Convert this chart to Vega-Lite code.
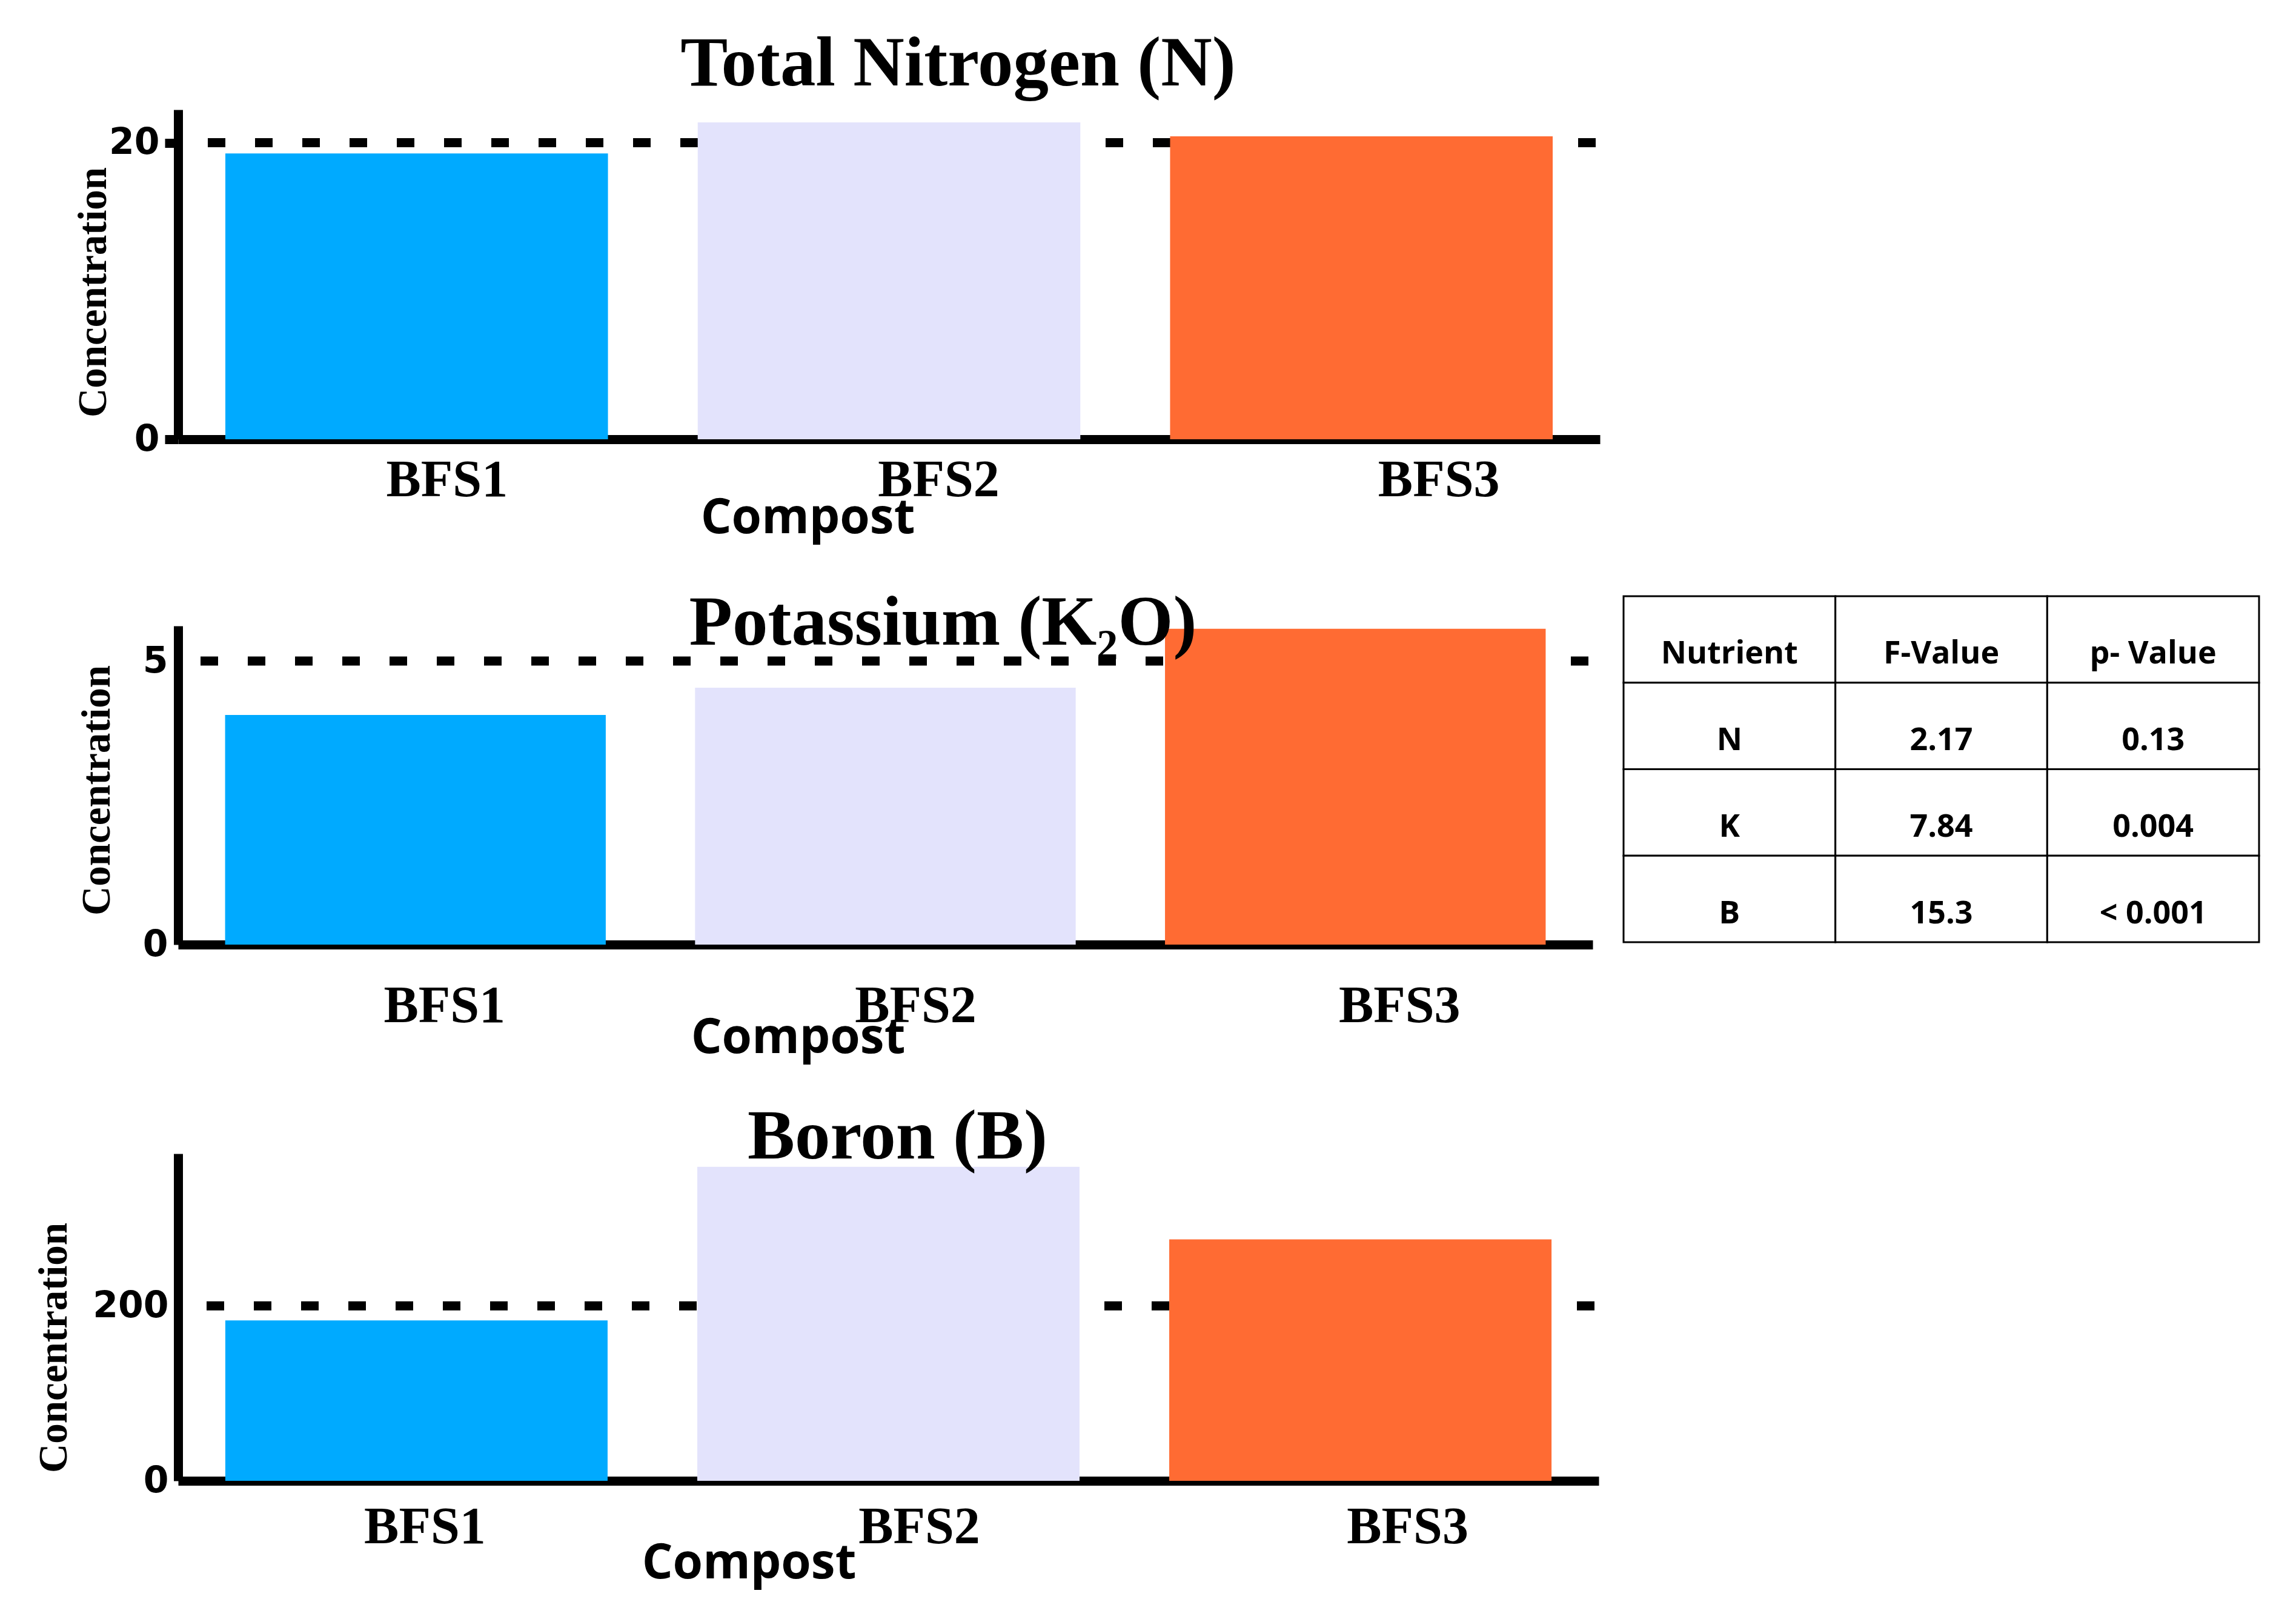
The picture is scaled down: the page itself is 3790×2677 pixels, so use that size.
{
  "$schema": "https://vega.github.io/schema/vega-lite/v6.json",
  "background": "white",
  "padding": {"left": 55, "top": 47, "right": 20, "bottom": 20},
  "config": {
    "view": {"stroke": null},
    "axis": {"grid": false, "domainColor": "black", "domainWidth": 15, "labelColor": "black", "titleColor": "black", "labelLimit": 0, "titleLimit": 0}
  },
  "datasets": {
    "concentrations": [
      {"nutrient": "N", "compost": "BFS1", "value": 19.28},
      {"nutrient": "N", "compost": "BFS2", "value": 21.37},
      {"nutrient": "N", "compost": "BFS3", "value": 20.43},
      {"nutrient": "K", "compost": "BFS1", "value": 4.05},
      {"nutrient": "K", "compost": "BFS2", "value": 4.53},
      {"nutrient": "K", "compost": "BFS3", "value": 5.57},
      {"nutrient": "B", "compost": "BFS1", "value": 183.4},
      {"nutrient": "B", "compost": "BFS2", "value": 359},
      {"nutrient": "B", "compost": "BFS3", "value": 276}
    ],
    "anova": [
      {"row": "header", "column": "Nutrient", "text": "Nutrient"},
      {"row": "header", "column": "F-Value", "text": "F-Value"},
      {"row": "header", "column": "p-Value", "text": "p- Value"},
      {"row": "N", "column": "Nutrient", "text": "N"},
      {"row": "N", "column": "F-Value", "text": "2.17"},
      {"row": "N", "column": "p-Value", "text": "0.13"},
      {"row": "K", "column": "Nutrient", "text": "K"},
      {"row": "K", "column": "F-Value", "text": "7.84"},
      {"row": "K", "column": "p-Value", "text": "0.004"},
      {"row": "B", "column": "Nutrient", "text": "B"},
      {"row": "B", "column": "F-Value", "text": "15.3"},
      {"row": "B", "column": "p-Value", "text": "< 0.001"}
    ]
  },
  "bounds": "flush",
  "spacing": 308,
  "vconcat": [
    {
      "width": 2347,
      "height": 544,
      "title": {"text": "Total Nitrogen (N)", "font": "Liberation Serif", "fontSize": 117, "fontWeight": "bold", "color": "black", "anchor": "middle", "frame": "group", "baseline": "alphabetic", "offset": -77, "dx": 114},
      "layer": [
        {
          "data": {"values": [{"reference": 20}]},
          "mark": {"type": "rule", "color": "black", "strokeWidth": 15, "strokeDash": [29, 49], "strokeDashOffset": 71},
          "encoding": {"y": {"field": "reference", "type": "quantitative", "title": "Concentration"}}
        },
        {
          "data": {"name": "concentrations"},
          "transform": [{"filter": "datum.nutrient === 'N'"}],
          "mark": {"type": "bar"},
          "encoding": {
            "x": {
              "field": "compost", "type": "nominal", "title": "Compost",
              "scale": {"paddingInner": 0.19, "paddingOuter": 0.1},
              "axis": {
                "titleFont": "Open Sans", "titleFontSize": 80, "titleFontWeight": "bold", "titleX": 1039, "titleY": 154, "titleBaseline": "alphabetic", "titleAlign": "center", "titleAngle": 0,
                "labelFont": "Liberation Serif", "labelFontSize": 86, "labelFontWeight": "bold", "labelAngle": 0, "labelBaseline": "alphabetic", "labelPadding": 93,
                "labelOffset": {"condition": [{"test": "datum.value === 'BFS1'", "value": 50}, {"test": "datum.value === 'BFS2'", "value": 82}], "value": 128},
                "ticks": false, "tickSize": 0
              }
            },
            "y": {
              "field": "value", "type": "quantitative", "title": "Concentration",
              "scale": {"domain": [0, 22.23], "nice": false},
              "axis": {
                "values": [0, 20], "format": "d",
                "titleFont": "Liberation Serif", "titleFontSize": 67, "titleFontWeight": "bold", "titleX": -120, "titleY": 301, "titleBaseline": "alphabetic", "titleAngle": 270, "titleAlign": "center",
                "labelFont": "DejaVu Sans", "labelFontSize": 60, "labelFontWeight": "bold", "labelPadding": 9,
                "ticks": true, "tickSize": 22, "tickWidth": 15, "tickColor": "black"
              }
            },
            "color": {"field": "compost", "type": "nominal", "scale": {"domain": ["BFS1", "BFS2", "BFS3"], "range": ["#00AAFF", "#E3E3FC", "#FF6B33"]}, "legend": null}
          }
        }
      ]
    },
    {
      "width": 2335,
      "height": 563,
      "title": {"text": "Potassium (K₂O)", "font": "Liberation Serif", "fontSize": 117, "fontWeight": "bold", "color": "black", "anchor": "middle", "frame": "group", "baseline": "alphabetic", "offset": -198, "dx": 95},
      "layer": [
        {
          "layer": [
            {
              "data": {"values": [{"reference": 5}]},
              "mark": {"type": "rule", "color": "black", "strokeWidth": 15, "strokeDash": [29, 49], "strokeDashOffset": 71},
              "encoding": {"y": {"field": "reference", "type": "quantitative", "title": "Concentration"}}
            },
            {
              "data": {"name": "concentrations"},
              "transform": [{"filter": "datum.nutrient === 'K'"}],
              "mark": {"type": "bar"},
              "encoding": {
                "x": {
                  "field": "compost", "type": "nominal", "title": "Compost",
                  "scale": {"paddingInner": 0.19, "paddingOuter": 0.1},
                  "axis": {
                    "offset": -37,
                    "titleFont": "Open Sans", "titleFontSize": 80, "titleFontWeight": "bold", "titleX": 1023, "titleY": 178, "titleBaseline": "alphabetic", "titleAlign": "center", "titleAngle": 0,
                    "labelFont": "Liberation Serif", "labelFontSize": 86, "labelFontWeight": "bold", "labelAngle": 0, "labelBaseline": "alphabetic", "labelPadding": 127,
                    "labelOffset": {"condition": [{"test": "datum.value === 'BFS1'", "value": 48}, {"test": "datum.value === 'BFS2'", "value": 50}], "value": 73},
                    "ticks": false, "tickSize": 0
                  }
                },
                "y": {
                  "field": "value", "type": "quantitative", "title": "Concentration",
                  "scale": {"domain": [0, 5.62], "nice": false, "range": [526, 0]},
                  "axis": {
                    "values": [0, 5], "format": "d",
                    "titleFont": "Liberation Serif", "titleFontSize": 67, "titleFontWeight": "bold", "titleX": -114, "titleY": 271, "titleBaseline": "alphabetic", "titleAngle": 270, "titleAlign": "center",
                    "labelFont": "DejaVu Sans", "labelFontSize": 60, "labelFontWeight": "bold", "labelPadding": 17,
                    "ticks": false, "tickSize": 0
                  }
                },
                "color": {"field": "compost", "type": "nominal", "scale": {"domain": ["BFS1", "BFS2", "BFS3"], "range": ["#00AAFF", "#E3E3FC", "#FF6B33"]}, "legend": null}
              }
            }
          ]
        },
        {
          "data": {"name": "anova"},
          "encoding": {
            "x": {"field": "column", "type": "nominal", "sort": null, "scale": {"range": [2386, 3435], "paddingInner": 0, "paddingOuter": 0}, "axis": null},
            "y": {"field": "row", "type": "nominal", "sort": null, "scale": {"range": [-49, 522], "paddingInner": 0, "paddingOuter": 0}, "axis": null}
          },
          "layer": [
            {"mark": {"type": "rect", "fill": "white", "stroke": "black", "strokeWidth": 3}},
            {"mark": {"type": "text", "font": "Open Sans", "fontSize": 52, "fontWeight": "bold", "color": "black", "baseline": "alphabetic", "dy": 40}, "encoding": {"text": {"field": "text"}}}
          ]
        }
      ],
      "resolve": {"scale": {"x": "independent", "y": "independent"}, "axis": {"x": "independent", "y": "independent"}}
    },
    {
      "width": 2345,
      "height": 540,
      "title": {"text": "Boron (B)", "font": "Liberation Serif", "fontSize": 117, "fontWeight": "bold", "color": "black", "anchor": "middle", "frame": "group", "baseline": "alphabetic", "offset": -125, "dx": 15},
      "layer": [
        {
          "data": {"values": [{"reference": 200}]},
          "mark": {"type": "rule", "color": "black", "strokeWidth": 15, "strokeDash": [29, 49], "strokeDashOffset": 71},
          "encoding": {"y": {"field": "reference", "type": "quantitative", "title": "Concentration"}}
        },
        {
          "data": {"name": "concentrations"},
          "transform": [{"filter": "datum.nutrient === 'B'"}],
          "mark": {"type": "bar"},
          "encoding": {
            "x": {
              "field": "compost", "type": "nominal", "title": "Compost",
              "scale": {"paddingInner": 0.19, "paddingOuter": 0.1},
              "axis": {
                "titleFont": "Open Sans", "titleFontSize": 80, "titleFontWeight": "bold", "titleX": 942, "titleY": 160, "titleBaseline": "alphabetic", "titleAlign": "center", "titleAngle": 0,
                "labelFont": "Liberation Serif", "labelFontSize": 86, "labelFontWeight": "bold", "labelAngle": 0, "labelBaseline": "alphabetic", "labelPadding": 102,
                "labelOffset": {"condition": [{"test": "datum.value === 'BFS1'", "value": 14}, {"test": "datum.value === 'BFS2'", "value": 51}], "value": 78},
                "ticks": false, "tickSize": 0
              }
            },
            "y": {
              "field": "value", "type": "quantitative", "title": "Concentration",
              "scale": {"domain": [0, 374], "nice": false},
              "axis": {
                "values": [0, 200], "format": "d",
                "titleFont": "Liberation Serif", "titleFontSize": 67, "titleFontWeight": "bold", "titleX": -185, "titleY": 320, "titleBaseline": "alphabetic", "titleAngle": 270, "titleAlign": "center",
                "labelFont": "DejaVu Sans", "labelFontSize": 60, "labelFontWeight": "bold", "labelPadding": 16,
                "ticks": false, "tickSize": 0
              }
            },
            "color": {"field": "compost", "type": "nominal", "scale": {"domain": ["BFS1", "BFS2", "BFS3"], "range": ["#00AAFF", "#E3E3FC", "#FF6B33"]}, "legend": null}
          }
        }
      ]
    }
  ]
}
